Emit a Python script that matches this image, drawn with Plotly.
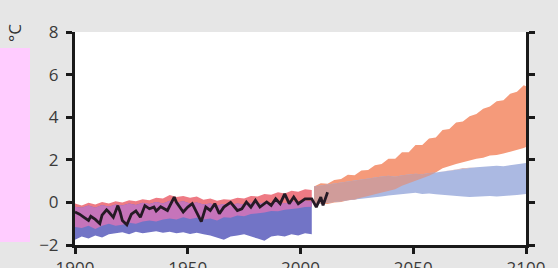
import plotly.graph_objects as go

# ---------------- data ----------------
hist_years = [1900, 1903, 1906, 1909, 1912, 1915, 1918, 1921, 1924, 1927, 1930, 1933,
              1936, 1939, 1942, 1945, 1948, 1951, 1954, 1957, 1960, 1963, 1966, 1969,
              1972, 1975, 1978, 1981, 1984, 1987, 1990, 1993, 1996, 1999, 2002, 2005]
red_hist_up = [-0.05, -0.15, -0.02, -0.10, 0.02, -0.05, 0.05, 0.00, 0.10, 0.05, 0.15, 0.10,
               0.22, 0.18, 0.35, 0.25, 0.30, 0.22, 0.28, 0.12, 0.18, 0.08, 0.15, 0.12,
               0.22, 0.18, 0.30, 0.28, 0.40, 0.36, 0.48, 0.42, 0.55, 0.50, 0.62, 0.58]
red_hist_lo = [-1.15, -1.20, -1.10, -1.25, -1.10, -1.00, -1.10, -1.05, -0.95, -1.00, -0.90, -0.85,
               -0.90, -0.80, -0.75, -0.80, -0.70, -0.78, -0.72, -0.80, -0.75, -0.85, -0.70, -0.72,
               -0.62, -0.65, -0.55, -0.50, -0.48, -0.40, -0.42, -0.35, -0.30, -0.28, -0.22, -0.20]
blue_hist_up = [-0.20, -0.25, -0.15, -0.25, -0.12, -0.20, -0.10, -0.15, -0.05, -0.12, -0.02, -0.08,
                0.02, -0.05, 0.08, 0.00, 0.05, -0.05, 0.00, -0.10, -0.05, -0.15, -0.08, -0.12,
                -0.05, -0.10, -0.02, -0.08, 0.00, -0.05, 0.02, -0.05, 0.05, 0.00, 0.08, 0.05]
blue_hist_lo = [-1.75, -1.60, -1.70, -1.55, -1.65, -1.50, -1.45, -1.40, -1.50, -1.38, -1.45, -1.40,
                -1.35, -1.42, -1.38, -1.45, -1.40, -1.48, -1.42, -1.50, -1.55, -1.65, -1.75, -1.60,
                -1.55, -1.50, -1.60, -1.70, -1.80, -1.60, -1.55, -1.60, -1.50, -1.55, -1.45, -1.50]

fut_years = [2006, 2009, 2012, 2015, 2018, 2021, 2024, 2027, 2030, 2033, 2036, 2039, 2042,
             2045, 2048, 2051, 2054, 2057, 2060, 2063, 2066, 2069, 2072, 2075, 2078, 2081,
             2084, 2087, 2090, 2093, 2096, 2099, 2100]
red_fut_up = [0.75, 0.90, 0.88, 1.05, 1.10, 1.30, 1.28, 1.50, 1.52, 1.75, 1.80, 2.05, 2.05,
              2.35, 2.35, 2.70, 2.70, 3.00, 3.05, 3.40, 3.45, 3.75, 3.80, 4.05, 4.15, 4.40,
              4.50, 4.75, 4.80, 5.10, 5.20, 5.50, 5.45]
red_fut_lo = [-0.10, -0.05, -0.08, 0.00, 0.02, 0.10, 0.12, 0.22, 0.30, 0.38, 0.45, 0.55, 0.62,
              0.78, 0.90, 1.02, 1.12, 1.25, 1.40, 1.60, 1.70, 1.80, 1.88, 1.95, 2.05, 2.10,
              2.20, 2.22, 2.30, 2.38, 2.45, 2.55, 2.60]
blue_fut_up = [0.75, 0.80, 0.82, 0.90, 0.95, 1.00, 1.05, 1.10, 1.12, 1.20, 1.22, 1.25, 1.20,
               1.28, 1.30, 1.35, 1.32, 1.38, 1.40, 1.45, 1.50, 1.55, 1.60, 1.62, 1.65, 1.68,
               1.70, 1.72, 1.70, 1.75, 1.78, 1.82, 1.85]
blue_fut_lo = [-0.10, -0.05, -0.02, 0.00, 0.05, 0.10, 0.15, 0.18, 0.20, 0.25, 0.28, 0.32, 0.38,
               0.40, 0.42, 0.45, 0.40, 0.42, 0.38, 0.35, 0.32, 0.30, 0.28, 0.25, 0.25, 0.28,
               0.30, 0.28, 0.30, 0.32, 0.35, 0.38, 0.40]

obs_years = [1900, 1902, 1904, 1906, 1907, 1909, 1911, 1912, 1914, 1915, 1917, 1919, 1920,
             1921, 1923, 1925, 1927, 1929, 1931, 1933, 1935, 1936, 1938, 1941, 1944, 1945,
             1948, 1950, 1952, 1954, 1956, 1958, 1960, 1962, 1964, 1966, 1969, 1972, 1974,
             1976, 1978, 1980, 1982, 1985, 1987, 1989, 1991, 1993, 1995, 1997, 1999, 2002,
             2005, 2007, 2009, 2010, 2012]
obs_vals = [-0.45, -0.55, -0.70, -0.85, -0.65, -0.80, -1.00, -0.60, -0.35, -0.45, -0.70, -0.15, -0.45,
            -0.85, -1.05, -0.55, -0.40, -0.70, -0.15, -0.30, -0.22, -0.40, -0.20, -0.38, 0.25, 0.00,
            -0.45, -0.22, -0.06, -0.45, -0.90, -0.22, -0.38, -0.06, -0.53, -0.22, 0.00, -0.38, -0.30,
            0.02, -0.22, 0.10, -0.22, 0.02, -0.14, 0.17, -0.06, 0.40, -0.06, 0.25, -0.06, 0.17,
            0.17, -0.22, 0.25, -0.14, 0.48]

y_ticks = [-2, 0, 2, 4, 6, 8]
y_tick_text = ["\u22122", "0", "2", "4", "6", "8"]
x_ticks = [1900, 1950, 2000, 2050, 2100]

# ---------------- colours ----------------
C_RED_H = "#ee7a84"
C_BLUE_H = "#7274c6"
C_OVER_H = "#c674ba"
C_RED_F = "#f59a7a"
C_BLUE_F = "#abb9e2"
C_OVER_F = "#d09c9a"


def band(x, up, lo, color):
    return go.Scatter(x=list(x) + list(x)[::-1], y=list(up) + list(lo)[::-1],
                      fill="toself", fillcolor=color, mode="lines",
                      line=dict(width=0, color=color), hoverinfo="skip", showlegend=False)


def overlap(up1, lo1, up2, lo2):
    up = [min(a, b) for a, b in zip(up1, up2)]
    lo = [max(a, b) for a, b in zip(lo1, lo2)]
    lo = [min(l, u) for l, u in zip(lo, up)]
    return up, lo


fig = go.Figure()
fig.add_trace(band(hist_years, red_hist_up, red_hist_lo, C_RED_H))
fig.add_trace(band(hist_years, blue_hist_up, blue_hist_lo, C_BLUE_H))
ou, ol = overlap(red_hist_up, red_hist_lo, blue_hist_up, blue_hist_lo)
fig.add_trace(band(hist_years, ou, ol, C_OVER_H))

fig.add_trace(band(fut_years, red_fut_up, red_fut_lo, C_RED_F))
fig.add_trace(band(fut_years, blue_fut_up, blue_fut_lo, C_BLUE_F))
ou, ol = overlap(red_fut_up, red_fut_lo, blue_fut_up, blue_fut_lo)
fig.add_trace(band(fut_years, ou, ol, C_OVER_F))

fig.add_trace(go.Scatter(x=obs_years, y=obs_vals, mode="lines",
                         line=dict(color="#251a25", width=2.8), showlegend=False))

L, R, T, B = 75, 32, 32, 23
W, H = 558, 268
pw, ph = W - L - R, H - T - B

fig.add_shape(type="rect", xref="paper", yref="paper",
              x0=(0 - L) / pw, x1=(30 - L) / pw,
              y0=(H - B - 242) / ph, y1=(H - B - 48) / ph,
              fillcolor="#ffccff", line=dict(width=0), layer="below")

fig.add_annotation(text="°C", xref="paper", yref="paper",
                   x=(15 - L) / pw, y=(H - B - 33) / ph, showarrow=False,
                   textangle=-90, font=dict(size=17, color="#333333", family="Open Sans"),
                   xanchor="center", yanchor="middle")

axis_font = dict(size=17, color="#3a3a3a", family="Open Sans")
fig.update_layout(
    width=W, height=H,
    margin=dict(l=L, r=R, t=T, b=B, autoexpand=False),
    paper_bgcolor="#e6e6e6",
    plot_bgcolor="#ffffff",
    showlegend=False,
    xaxis=dict(range=[1900, 2100], tickvals=x_ticks, ticks="outside", ticklen=6,
               tickwidth=3, tickcolor="#1a1a1a", showline=True, linewidth=3,
               linecolor="#1a1a1a", showgrid=False, zeroline=False, tickfont=axis_font,
               mirror=False, automargin=False),
    yaxis=dict(range=[-2, 8], tickvals=y_ticks, ticktext=y_tick_text,
               ticks="outside", ticklen=6, tickwidth=3, tickcolor="#1a1a1a",
               showline=True, linewidth=3, linecolor="#1a1a1a", showgrid=False,
               zeroline=False, tickfont=axis_font, mirror="ticks", ticklabelstandoff=4,
               automargin=False),
)

fig.write_html(
    "out.html",
    config={"displayModeBar": False, "staticPlot": True},
    post_script="document.body.style.margin='0';document.body.style.background='#e6e6e6';"
                "document.body.style.overflow='hidden';",
)
